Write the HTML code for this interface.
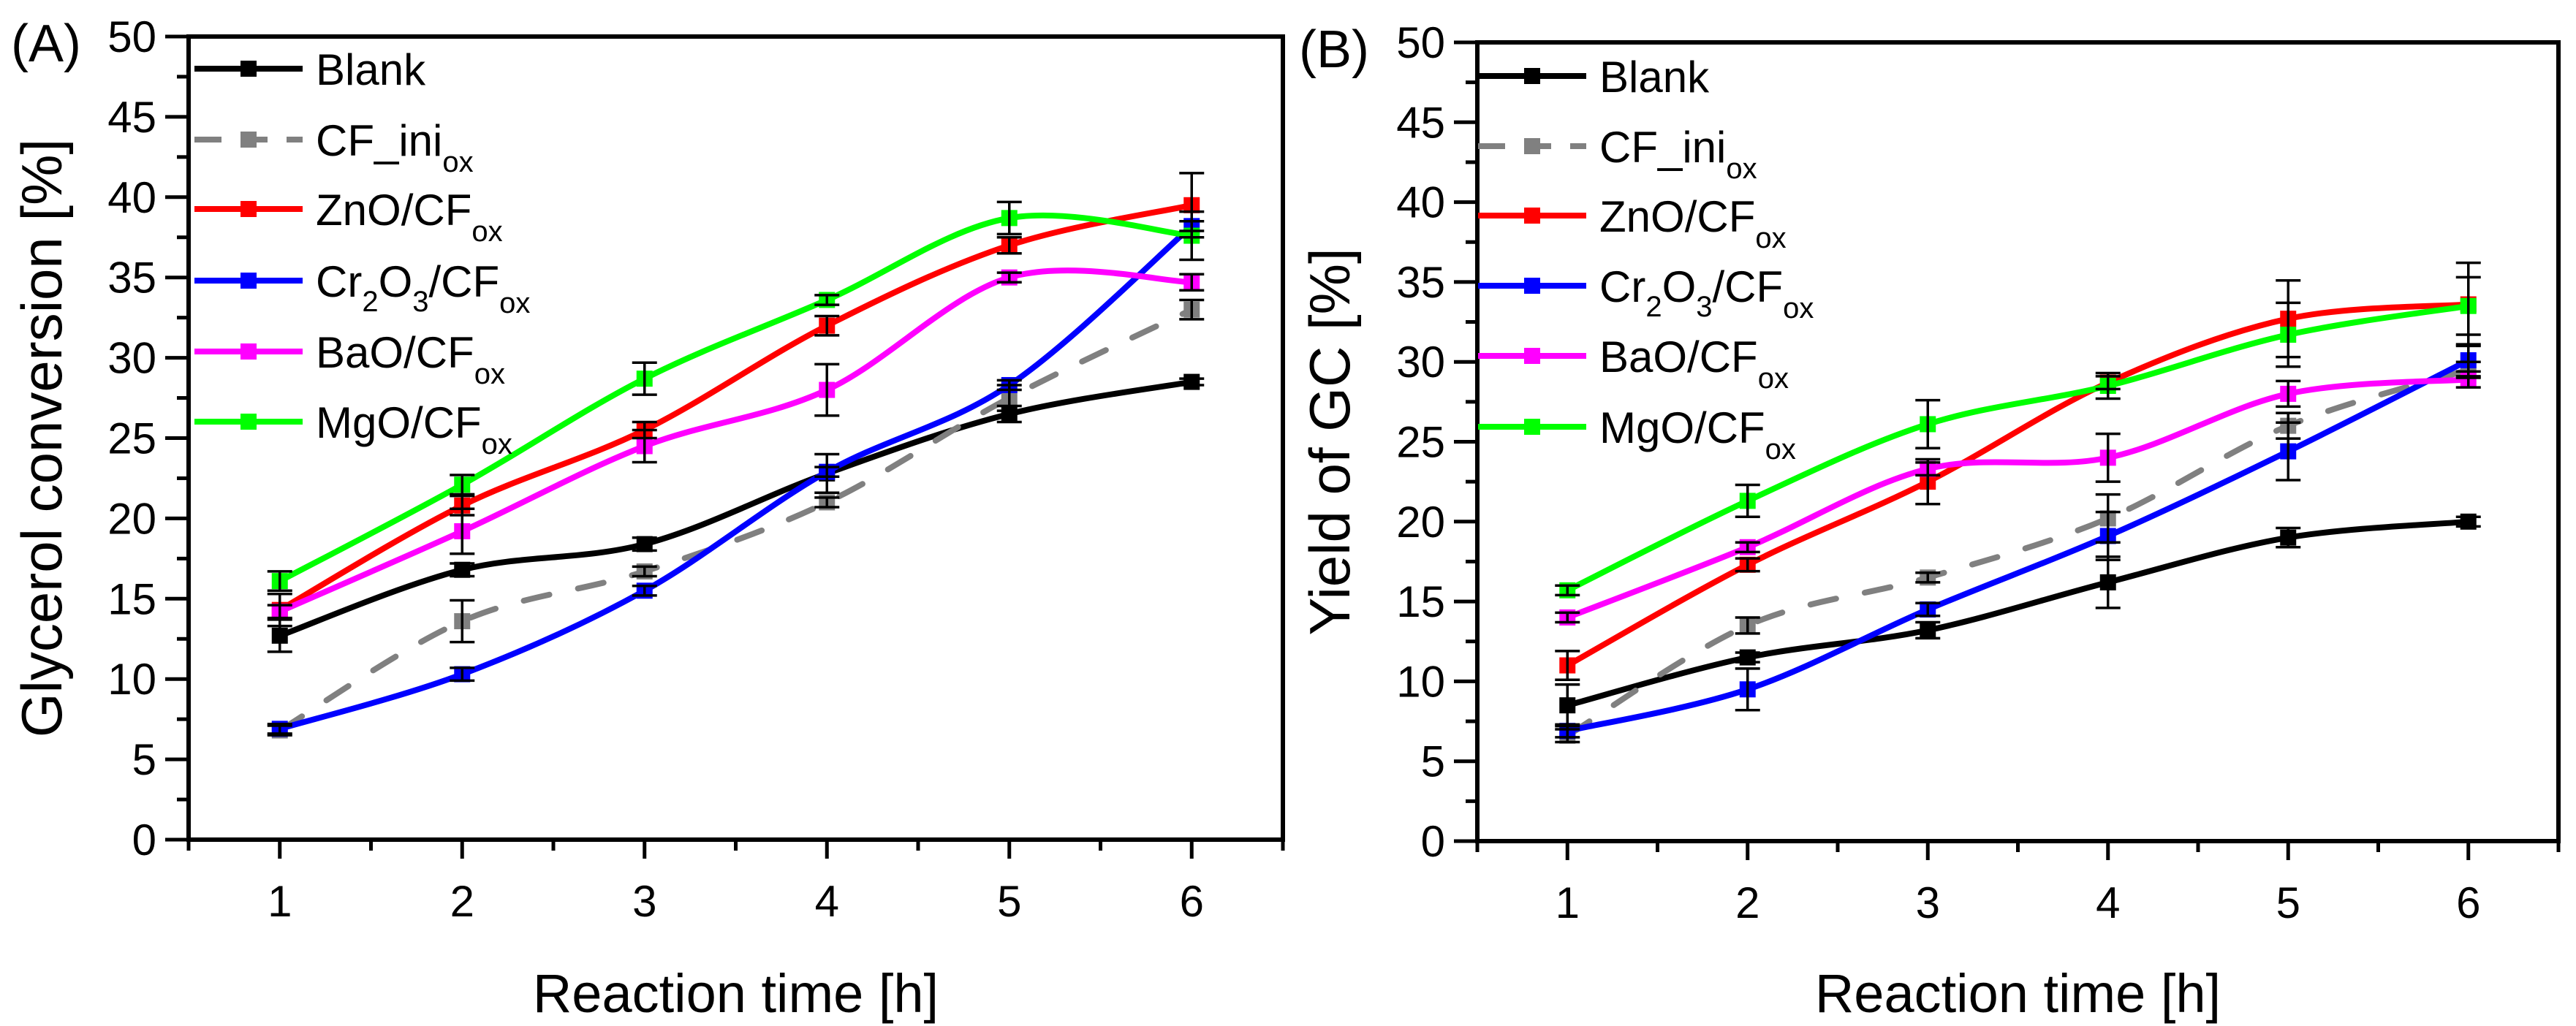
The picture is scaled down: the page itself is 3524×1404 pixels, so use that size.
<!DOCTYPE html>
<html><head><meta charset="utf-8"><style>
body{margin:0;background:#fff}
svg{display:block}
text{font-family:"Liberation Sans",sans-serif;fill:#000}
</style></head><body>
<svg id="chart" width="3524" height="1404" viewBox="0 0 3524 1404" xmlns="http://www.w3.org/2000/svg"></svg>
<script>
const hours=[1,2,3,4,5,6];
const seriesNames=["Blank","CF_ini","ZnO/CF","Cr2O3/CF","BaO/CF","MgO/CF"];
const seriesColors=["#000000","#808080","#ff0000","#0000ff","#ff00ff","#00ff00"];
const yTicks=[0,5,10,15,20,25,30,35,40,45,50];
const xTicks=[1,2,3,4,5,6];
// Panel A: glycerol conversion
const aBlank=[12.7,16.8,18.4,22.8,26.5,28.5];
const aCF=[6.8,13.6,16.7,21.0,27.5,33.0];
const aZnO=[14.3,20.8,25.5,32.0,37.0,39.5];
const aCr=[6.9,10.3,15.5,22.9,28.3,38.2];
const aBaO=[14.2,19.2,24.5,28.0,35.0,34.7];
const aMgO=[16.1,22.1,28.7,33.6,38.7,37.6];
const aBlankErr=[1.0,0.4,0.4,1.2,0.5,0.2];
const aCFErr=[0.3,1.3,0.3,0.3,0.8,0.6];
const aZnOErr=[1.0,0.6,0.5,0.6,0.5,2.0];
const aCrErr=[0.3,0.4,0.3,0.3,0.3,0.3];
const aBaOErr=[0.4,1.4,1.0,1.6,0.3,0.5];
const aMgOErr=[0.6,0.6,1.0,0.3,1.0,1.5];
// Panel B: yield of GC
const bBlank=[8.5,11.5,13.2,16.2,19.0,20.0];
const bCF=[6.6,13.5,16.5,20.2,26.0,29.5];
const bZnO=[11.0,17.3,22.5,28.7,32.7,33.6];
const bCr=[6.9,9.5,14.5,19.1,24.4,30.1];
const bBaO=[14.0,18.4,23.3,24.0,28.0,28.9];
const bMgO=[15.7,21.3,26.1,28.5,31.7,33.5];
const bBlankErr=[1.3,0.3,0.5,1.6,0.6,0.3];
const bCFErr=[0.4,0.5,0.3,1.5,0.8,0.5];
const bZnOErr=[0.9,0.4,1.4,0.4,2.4,2.6];
const bCrErr=[0.4,1.3,0.4,1.5,1.8,1.0];
const bBaOErr=[0.3,0.3,0.4,1.5,0.8,0.5];
const bMgOErr=[0.3,1.0,1.5,0.8,2.0,1.8];

const NS="http://www.w3.org/2000/svg";
const svg=document.getElementById('chart');
function mk(tag,attrs,parent){const e=document.createElementNS(NS,tag);for(const k in attrs)e.setAttribute(k,attrs[k]);(parent||svg).appendChild(e);return e;}

function spline(pts){
  let d="M"+pts[0][0]+","+pts[0][1];
  for(let i=0;i<pts.length-1;i++){
    const p0=pts[Math.max(0,i-1)],p1=pts[i],p2=pts[i+1],p3=pts[Math.min(pts.length-1,i+2)];
    const c1x=p1[0]+(p2[0]-p0[0])/6,c1y=p1[1]+(p2[1]-p0[1])/6;
    const c2x=p2[0]-(p3[0]-p1[0])/6,c2y=p2[1]-(p3[1]-p1[1])/6;
    d+=" C"+c1x+","+c1y+" "+c2x+","+c2y+" "+p2[0]+","+p2[1];
  }
  return d;
}

function panel(cfg){
  const g=mk('g',{});
  
  
  const L=cfg.left,R=cfg.right,T=cfg.top,B=cfg.bottom;
  const xs=v=>L+(v-0.5)/6*(R-L);
  const ys=v=>B-v/50*(B-T);
  yTicks.forEach(v=>{
    const y=ys(v);
    const t=mk('line',{x1:L-32,x2:L,y1:y,y2:y,stroke:'#000','stroke-width':5},g);
    
    const lb=mk('text',{x:L-44,y:y+21,'font-size':60,'text-anchor':'end'},g);
    lb.textContent=v;
    
    if(v<50){const m=mk('line',{x1:L-16,x2:L,y1:ys(v+2.5),y2:ys(v+2.5),stroke:'#000','stroke-width':5},g);
      }
  });
  xTicks.forEach(v=>{
    const x=xs(v);
    const t=mk('line',{x1:x,x2:x,y1:B,y2:B+26,stroke:'#000','stroke-width':5},g);
    
    const lb=mk('text',{x:x,y:B+105,'font-size':60,'text-anchor':'middle'},g);
    lb.textContent=v;
    
  });
  [0.5,1.5,2.5,3.5,4.5,5.5,6.5].forEach(v=>{
    const m=mk('line',{x1:xs(v),x2:xs(v),y1:B,y2:B+15,stroke:'#000','stroke-width':5},g);
    
  });
  cfg.series.forEach((s,i)=>{
    const sg=mk('g',{},g);
    
    
    const pts=hours.map((h,j)=>[xs(h),ys(s[j])]);
    const p=mk('path',{d:spline(pts),fill:'none',stroke:seriesColors[i],'stroke-width':8,'stroke-linecap':i==1?'round':'butt'},sg);
    if(i==1)p.setAttribute('stroke-dasharray','36 40');
    
    hours.forEach((h,j)=>{
      const x=xs(h),y=ys(s[j]);
      const m=mk('rect',{x:x-11,y:y-11,width:22,height:22,fill:seriesColors[i]},sg);
      
    });
  });
  cfg.series.forEach((s,i)=>{
    hours.forEach((h,j)=>{
      const x=xs(h),e=cfg.errs[i][j],y1=ys(s[j]+e),y2=ys(s[j]-e);
      const eb=mk('path',{d:`M${x},${y1}V${y2}M${x-17},${y1}H${x+17}M${x-17},${y2}H${x+17}`,stroke:'#000','stroke-width':3.5,fill:'none'},g);
      
    });
  });
  const fr=mk('rect',{x:L,y:T,width:R-L,height:B-T,fill:'none',stroke:'#000','stroke-width':6},g);
  
  const lg=mk('g',{},g);
  
  const labs=[['Blank',''],['CF_ini','ox'],['ZnO/CF','ox'],['Cr2O3','ox'],['BaO/CF','ox'],['MgO/CF','ox']];
  labs.forEach((lb,i)=>{
    const y=cfg.legY[i];
    const ln=mk('line',{x1:cfg.legX,x2:cfg.legX+148,y1:y,y2:y,stroke:seriesColors[i],'stroke-width':8},lg);
    if(i==1)ln.setAttribute('stroke-dasharray','37 26');
    
    const mr=mk('rect',{x:cfg.legX+63,y:y-11,width:22,height:22,fill:seriesColors[i]},lg);
    
    const t=mk('text',{x:cfg.legX+166,y:y+22,'font-size':60},lg);
    
    if(i==3){
      t.innerHTML='Cr<tspan font-size="40" dy="20">2</tspan><tspan dy="-20">O</tspan><tspan font-size="40" dy="20">3</tspan><tspan dy="-20">/CF</tspan><tspan font-size="40" dy="22">ox</tspan>';
    }else if(lb[1]){
      t.innerHTML=lb[0]+'<tspan font-size="40" dy="22">ox</tspan>';
    }else t.textContent=lb[0];
  });
  const yt=mk('text',{x:0,y:0,'font-size':78,'text-anchor':'middle',transform:`translate(${cfg.ytX},${(T+B)/2}) rotate(-90)`},g);
  yt.textContent=cfg.ytitle;
  const xt=mk('text',{x:(L+R)/2,y:1385,'font-size':74,'text-anchor':'middle'},g);
  xt.textContent='Reaction time [h]';
  const pl=mk('text',{x:cfg.plX,y:cfg.plY,'font-size':72},g);
  pl.textContent=cfg.plabel;
}
panel({name:'panel-a',left:258,right:1755,top:50,bottom:1149,
  series:[aBlank,aCF,aZnO,aCr,aBaO,aMgO],errs:[aBlankErr,aCFErr,aZnOErr,aCrErr,aBaOErr,aMgOErr],
  legX:266,legY:[94,191,286,384,481,577],ytitle:'Glycerol conversion [%]',ytX:84,plabel:'(A)',plX:15,plY:84});
panel({name:'panel-b',left:2021,right:3500,top:58,bottom:1151,
  series:[bBlank,bCF,bZnO,bCr,bBaO,bMgO],errs:[bBlankErr,bCFErr,bZnOErr,bCrErr,bBaOErr,bMgOErr],
  legX:2022,legY:[104,200,295,391,487,584],ytitle:'Yield of GC [%]',ytX:1846,plabel:'(B)',plX:1777,plY:92});
</script>
</body></html>
